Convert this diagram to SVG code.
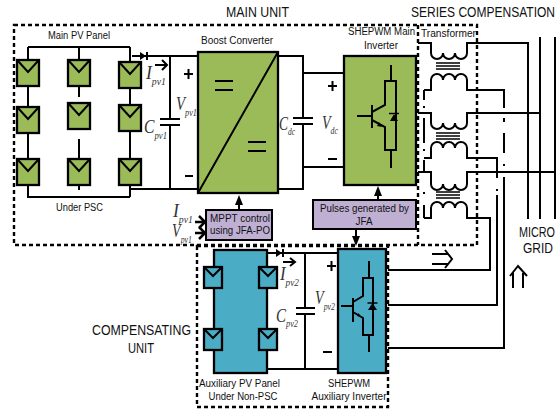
<svg xmlns="http://www.w3.org/2000/svg" width="556" height="411" viewBox="0 0 556 411">
<style>
.w{fill:none;stroke:#000;stroke-width:2}
.t{fill:none;stroke:#000;stroke-width:1.5}
.a{fill:none;stroke:#000;stroke-width:2.5}
.d{fill:none;stroke:#000;stroke-width:2.4;stroke-dasharray:4 3}
.g{fill:#9BBB59;stroke:#000;stroke-width:2.3}
.b{fill:#4BACC6;stroke:#000;stroke-width:2.3}
.p{fill:#BFB0D3;stroke:#000;stroke-width:2}
.k{fill:#000;stroke:none}
text{font-family:"Liberation Sans",Arial,sans-serif;font-size:10px;fill:#111}
.h{font-size:14px}
.e{font-family:"Liberation Serif","Times New Roman",serif;font-style:italic;font-size:18px;fill:#333}
.s{font-size:10px}
.m{text-anchor:middle}
</style>
<defs>
<g id="pg"><rect x="0" y="0" width="22" height="26" class="g"/><path d="M1 1L11 12L21 1" class="w"/></g>
<g id="pb"><rect x="0" y="0" width="18" height="21" class="b"/><path d="M1 1L9 9L17 1" class="w"/></g>
<path id="coilD" d="M0 0a6 6 0 0 0 12 0a6 6 0 0 0 12 0a6 6 0 0 0 12 0" class="w"/>
<path id="coilU" d="M0 0a6 6 0 0 1 12 0a6 6 0 0 1 12 0a6 6 0 0 1 12 0" class="w"/>
<g id="core"><path d="M0 0H24M0 3H24M0 6H24" class="t"/></g>
</defs>

<g id="connectors">
<path d="M28 47H130M79 47V60M79 86V97M79 139V159M79 185V190M28 47V60M28 86V107M28 133V159M28 185V197H130M130 47V62M130 88V105M130 131V159M130 185V197" class="w"/>
<path d="M132 56H198M170 56V119M170 125V189M130 189H198" class="w"/>
<path d="M160 119H180M160 125H180" class="w"/>
<path d="M278 56H303V118M303 124V189H278M303 73H344M303 167H344" class="w"/>
<path d="M293 118H313M293 124H313" class="w"/>
<path d="M267 253H338M305 253V308M305 314V369M267 369H338" class="w"/>
<path d="M296 308H315M296 314H315" class="w"/>
<path d="M239 210V200M378 200V190M356 229V240" class="w"/>
<path d="M239 195l-4 10h8zM378 186l-4 10h8zM356 246l-4 -10h8z" class="k"/>
<path d="M195 222H205M199 216l6 6l-6 6M195 233H205M199 227l6 6l-6 6" class="a"/>
<path d="M418 43H431V53M467 53V43H528V219" class="w"/>
<path d="M424 90H431V80M467 80V90H504V108M504 118V122M504 133V153M504 164V166M504 177V348H388" class="w"/>
<path d="M418 113H431V123M467 123V113H540M540 37V219" class="w"/>
<path d="M424 158H431V148M467 148V158H497V178M497 189V191M497 195V305H388" class="w"/>
<path d="M418 172H431V184M467 184V172H555M555 37V219" class="w"/>
<path d="M424 218H431V208M467 208V218H490V270H388" class="w"/>
<path d="M424 90V100M424 106V108M424 118V143M424 149V151M424 160V172M424 192V194M424 205V218" class="w"/>
<path d="M432 254H448M432 264H448M445 250L452 259L445 268" class="w"/>
<path d="M513 288V273M523 288V273M510 276L518 266L527 276" class="w"/>
</g>

<g id="main-unit-frame"><rect x="14" y="25" width="463" height="220" class="d"/><path d="M418 25V245" class="d"/></g>
<g id="compensating-frame"><rect x="197" y="246" width="191" height="161" class="d"/></g>

<g id="main-pv-panel">
<use href="#pg" x="17" y="60"/><use href="#pg" x="68" y="60"/><use href="#pg" x="119" y="62"/>
<use href="#pg" x="17" y="107"/><use href="#pg" x="68" y="103"/><use href="#pg" x="119" y="105"/>
<use href="#pg" x="17" y="159"/><use href="#pg" x="68" y="159"/><use href="#pg" x="119" y="159"/>
<text x="48" y="39" textLength="62" lengthAdjust="spacingAndGlyphs">Main PV Panel</text>
<text x="56" y="211" textLength="47" lengthAdjust="spacingAndGlyphs">Under PSC</text>
</g>

<g id="diode-1"><path d="M140 52V60L146 56Z" class="k"/><path d="M147 52V60" class="w"/></g>
<g id="diode-2"><path d="M276 249V257L282 253Z" class="k"/><path d="M283 249V257" class="w"/></g>

<g id="labels-1">
<text x="146" y="79" class="e" textLength="20" lengthAdjust="spacingAndGlyphs">I<tspan dy="6" class="s">pv1</tspan></text>
<path d="M155 65H167M162 60L167 65L162 70" class="w"/>
<text x="176" y="110" class="e" textLength="21" lengthAdjust="spacingAndGlyphs">V<tspan dy="6" class="s">pv1</tspan></text>
<text x="144" y="133" class="e" textLength="23" lengthAdjust="spacingAndGlyphs">C<tspan dy="6" class="s">pv1</tspan></text>
<path d="M184 74H193M188.500 69V79M185 176H193" class="w"/>
</g>

<g id="boost-converter">
<rect x="198" y="52" width="80" height="141" class="g"/>
<path d="M198 193L278 52M215 81H233M215 90H233M248 142H266M248 151H266" class="w"/>
<text x="201" y="44" textLength="72" lengthAdjust="spacingAndGlyphs">Boost Converter</text>
</g>

<g id="labels-dc">
<text x="279" y="130" class="e" textLength="16" lengthAdjust="spacingAndGlyphs">C<tspan dy="5" class="s">dc</tspan></text>
<text x="322" y="129" class="e" textLength="16" lengthAdjust="spacingAndGlyphs">V<tspan dy="5" class="s">dc</tspan></text>
<path d="M328 86H337M332.500 81V91M328 159H337" class="w"/>
</g>

<g id="main-inverter">
<rect x="344" y="56" width="72" height="129" class="g"/>
<path d="M391 65V81H385V105L372 112M372 105V128M357 116H372M372 120L385 127V150H396V81H391M391 150V168" class="w"/>
<path d="M390 121H398L394 114Z" class="k"/><path d="M389 113.500H399" class="t"/>
<path d="M382 127l-5 -1l2 -4z" class="k"/>
<text x="348" y="35" textLength="67" lengthAdjust="spacingAndGlyphs">SHEPWM Main</text>
<text x="381" y="49" class="m" textLength="34" lengthAdjust="spacingAndGlyphs">Inverter</text>
</g>

<g id="mppt-control">
<rect x="206" y="210" width="66" height="30" class="p"/>
<text x="240" y="222" class="m" textLength="60" lengthAdjust="spacingAndGlyphs">MPPT control</text>
<text x="240" y="234" class="m" textLength="60" lengthAdjust="spacingAndGlyphs">using JFA-PO</text>
<text x="173" y="217" class="e" textLength="20" lengthAdjust="spacingAndGlyphs">I<tspan dy="6" class="s">pv1</tspan></text>
<text x="172" y="237" class="e" textLength="20" lengthAdjust="spacingAndGlyphs">V<tspan dy="6" class="s">pv1</tspan></text>
</g>

<g id="pulses-jfa">
<rect x="313" y="200" width="103" height="29" class="p"/>
<text x="364.500" y="212" class="m" textLength="89" lengthAdjust="spacingAndGlyphs">Pulses generated by</text>
<text x="364" y="225" class="m" textLength="17" lengthAdjust="spacingAndGlyphs">JFA</text>
</g>

<g id="auxiliary-pv-panel">
<rect x="214" y="250" width="53" height="123" class="b"/>
<use href="#pb" x="204" y="267"/><use href="#pb" x="259" y="267"/>
<use href="#pb" x="204" y="329"/><use href="#pb" x="259" y="329"/>
<text x="199" y="387" textLength="81" lengthAdjust="spacingAndGlyphs">Auxiliary PV Panel</text>
<text x="243" y="400" class="m" textLength="69" lengthAdjust="spacingAndGlyphs">Under Non-PSC</text>
</g>

<g id="labels-2">
<text x="280" y="280" class="e" textLength="19" lengthAdjust="spacingAndGlyphs">I<tspan dy="6" class="s">pv2</tspan></text>
<path d="M283 262H295M290 258L295 262L290 266" class="w"/>
<text x="276" y="322" class="e" textLength="22" lengthAdjust="spacingAndGlyphs">C<tspan dy="5" class="s">pv2</tspan></text>
<text x="315" y="304" class="e" textLength="20" lengthAdjust="spacingAndGlyphs">V<tspan dy="6" class="s">pv2</tspan></text>
<path d="M327 266H336M331.500 261V271M323 352H332" class="w"/>
</g>

<g id="auxiliary-inverter">
<rect x="338" y="249" width="48" height="124" class="b"/>
<path d="M369 261V278H363V296L353 302M353 298V322M341 306H353M353 312L363 318V335H373V278H369M369 335V352" class="w"/>
<path d="M368 310H377L372.500 303Z" class="k"/><path d="M367.500 303H377.500" class="t"/>
<path d="M361 317l-4 -1l1.500 -3z" class="k"/>
<text x="349" y="387" class="m" textLength="42" lengthAdjust="spacingAndGlyphs">SHEPWM</text>
<text x="349" y="400" class="m" textLength="75" lengthAdjust="spacingAndGlyphs">Auxiliary Inverter</text>
</g>

<g id="transformer">
<use href="#coilD" x="431" y="53"/><use href="#core" x="436" y="63"/><use href="#coilU" x="431" y="80"/>
<use href="#coilD" x="431" y="123"/><use href="#core" x="436" y="133"/><use href="#coilU" x="431" y="148"/>
<use href="#coilD" x="431" y="184"/><use href="#core" x="436" y="192"/><use href="#coilU" x="431" y="208"/>
<text x="421" y="37" textLength="55" lengthAdjust="spacingAndGlyphs">Transformer</text>
</g>

<g id="titles">
<text x="226" y="17" class="h" textLength="63" lengthAdjust="spacingAndGlyphs">MAIN UNIT</text>
<text x="411" y="17" class="h" textLength="144" lengthAdjust="spacingAndGlyphs">SERIES COMPENSATION</text>
<text x="92" y="335" class="h" textLength="99" lengthAdjust="spacingAndGlyphs">COMPENSATING</text>
<text x="128" y="353" class="h" textLength="26" lengthAdjust="spacingAndGlyphs">UNIT</text>
<text x="519" y="237" class="h" textLength="36" lengthAdjust="spacingAndGlyphs">MICRO</text>
<text x="523" y="253" class="h" textLength="30" lengthAdjust="spacingAndGlyphs">GRID</text>
</g>
</svg>
